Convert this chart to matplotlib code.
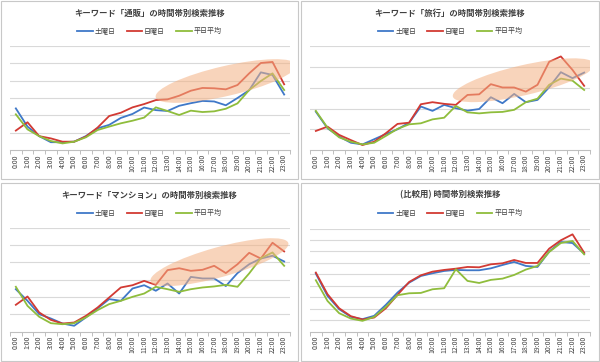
import numpy as np
import matplotlib
matplotlib.use('Agg')
import matplotlib.pyplot as plt
from matplotlib.patches import Ellipse, Rectangle
from matplotlib import transforms

plt.rcParams['font.family'] = ['Noto Sans CJK JP', 'DejaVu Sans']

hours = ['%d:00' % h for h in range(24)]
series_names = ['土曜日', '日曜日', '平日平均']
colors = ['#3f78c8', '#d23a33', '#8fbd3c']

# 通販
tsuhan_sat = [2.4, 1.35, 0.8, 0.45, 0.45, 0.48, 0.8, 1.25, 1.45, 1.85, 2.08, 2.45,
              2.3, 2.25, 2.55, 2.7, 2.83, 2.8, 2.58, 3.0, 3.45, 4.48, 4.33, 3.2]
tsuhan_sun = [1.12, 1.6, 0.8, 0.67, 0.48, 0.48, 0.77, 1.29, 1.96, 2.15, 2.46, 2.65,
              2.88, 2.92, 3.13, 3.42, 3.58, 3.56, 3.5, 3.75, 4.42, 5.02, 5.08, 3.79]
tsuhan_wd = [2.06, 1.19, 0.8, 0.52, 0.38, 0.48, 0.73, 1.15, 1.35, 1.54, 1.69, 1.87,
             2.46, 2.25, 2.02, 2.27, 2.19, 2.23, 2.38, 2.69, 3.46, 3.98, 4.42, 3.46]

# 旅行
ryoko_sat = [1.85, 1.05, 0.65, 0.35, 0.27, 0.52, 0.77, 1.0, 1.32, 2.1, 1.89, 2.18,
             2.02, 1.9, 1.98, 2.55, 2.26, 2.71, 2.31, 2.42, 3.03, 3.76, 3.47, 3.74]
ryoko_sun = [0.92, 1.13, 0.73, 0.48, 0.24, 0.4, 0.81, 1.26, 1.32, 2.21, 2.31, 2.23,
             2.18, 2.66, 2.69, 3.18, 3.02, 3.02, 2.82, 3.15, 4.26, 4.52, 3.87, 3.1]
ryoko_wd = [1.89, 1.08, 0.61, 0.4, 0.27, 0.35, 0.68, 1.02, 1.24, 1.29, 1.48, 1.56,
            2.13, 1.82, 1.77, 1.82, 1.84, 1.94, 2.31, 2.48, 3.15, 3.45, 3.35, 2.9]

# マンション
mansion_sat = [2.44, 1.77, 1.0, 0.75, 0.46, 0.33, 0.81, 1.33, 1.87, 1.77, 2.48, 2.67,
               2.35, 2.77, 2.19, 3.15, 3.06, 3.06, 2.62, 3.37, 3.88, 4.21, 4.37, 4.04]
mansion_sun = [1.54, 2.02, 1.1, 0.67, 0.46, 0.52, 0.9, 1.38, 1.96, 2.54, 2.67, 2.92,
               2.69, 3.54, 3.65, 3.5, 3.56, 3.79, 3.37, 3.88, 4.54, 4.21, 5.12, 4.62]
mansion_wd = [2.58, 1.48, 0.85, 0.48, 0.42, 0.48, 0.81, 1.23, 1.58, 1.77, 2.0, 2.19,
              2.58, 2.44, 2.29, 2.44, 2.54, 2.6, 2.69, 2.58, 3.35, 4.23, 4.56, 3.79]

# 比較用
base_sat = [5.06, 3.11, 1.95, 1.28, 1.08, 1.37, 2.33, 3.4, 4.27, 4.85, 5.09, 5.29,
            5.38, 5.35, 5.35, 5.52, 5.81, 6.08, 5.73, 5.64, 6.98, 7.82, 7.73, 6.8]
base_sun = [5.15, 3.26, 2.03, 1.34, 1.05, 1.22, 2.03, 3.2, 4.33, 4.91, 5.23, 5.38,
            5.49, 5.64, 5.61, 5.87, 5.96, 6.25, 5.99, 5.99, 7.24, 7.97, 8.49, 6.89]
base_wd = [4.48, 2.67, 1.6, 1.13, 0.93, 1.28, 2.15, 3.17, 3.34, 3.37, 3.69, 3.78,
           5.44, 4.42, 4.24, 4.51, 4.62, 4.94, 5.41, 5.73, 6.95, 7.73, 7.91, 6.74]

titles = ['キーワード「通販」の時間帯別検索推移', 'キーワード「旅行」の時間帯別検索推移',
          'キーワード「マンション」の時間帯別検索推移', '(比較用) 時間帯別検索推移']
data = [(tsuhan_sat, tsuhan_sun, tsuhan_wd), (ryoko_sat, ryoko_sun, ryoko_wd),
        (mansion_sat, mansion_sun, mansion_wd), (base_sat, base_sun, base_wd)]
ymax = [6, 5, 6, 9]
# highlight ellipse: (center hour, center value, width in, height in, angle)
highlights = [(18.0, 3.98, 1.44, 0.30, 13), (17.8, 3.37, 1.45, 0.30, 13),
              (17.45, 4.0, 1.43, 0.30, 15.5), None]

W, H = 600, 362
fig = plt.figure(figsize=(6, 3.62), dpi=100)

# panel boxes (px): x0, y0(top), x1, y1
boxes = [(1, 1, 298, 179), (301, 1, 599, 179), (1, 183, 298, 361), (301, 183, 599, 361)]
# axes areas (px): left, top, right, bottom
areas = [(10, 46, 290, 150), (310, 46.5, 590, 150), (10, 227.5, 290, 331.5), (310, 228.5, 590, 331.5)]

x = np.arange(24)
for i in range(4):
    bx0, by0, bx1, by1 = boxes[i]
    fig.patches.append(Rectangle((bx0 / W, 1 - by1 / H), (bx1 - bx0) / W, (by1 - by0) / H,
                                 transform=fig.transFigure, fill=False, edgecolor='#c8c8c8', lw=0.8))
    l, t, r, b = areas[i]
    ax = fig.add_axes([l / W, 1 - b / H, (r - l) / W, (b - t) / H])
    lines = []
    for s, c, name in zip(data[i], colors, series_names):
        ln, = ax.plot(x, s, color=c, lw=1.3, label=name, zorder=3)
        lines.append(ln)
    ax.set_xlim(-0.5, 23.5)
    ax.set_ylim(0, ymax[i])
    ax.set_yticks(range(1, ymax[i] + 1))
    ax.yaxis.grid(True, color='#d9d9d9', lw=0.8)
    ax.set_axisbelow(True)
    ax.tick_params(axis='y', length=0, labelleft=False)
    ax.set_xticks(x)
    ax.set_xticklabels(hours, rotation=90, fontsize=5, color='#404040')
    ax.set_xticks(np.arange(-0.5, 24, 1), minor=True)
    ax.tick_params(axis='x', which='major', length=0, pad=3)
    ax.tick_params(axis='x', which='minor', length=3, color='#bfbfbf', width=0.7)
    for sp in ['top', 'left', 'right']:
        ax.spines[sp].set_visible(False)
    ax.spines['bottom'].set_color('#bfbfbf')
    ax.spines['bottom'].set_linewidth(0.8)

    cx = (bx0 + bx1) / 2 / W
    fig.text(cx, 1 - (by0 + 12) / H, titles[i], ha='center', va='center',
             fontsize=6, fontweight='bold', color='#404040')
    fig.legend(handles=lines, loc='center', bbox_to_anchor=(cx, 1 - (by0 + 30) / H),
               ncol=3, frameon=False, fontsize=5, handlelength=2.2, columnspacing=1.6,
               handletextpad=0.3, labelcolor='#404040')

    if highlights[i] is not None:
        hx, hy, ew, eh, ang = highlights[i]
        tr = fig.dpi_scale_trans + transforms.ScaledTranslation(hx, hy, ax.transData)
        ax.add_patch(Ellipse((0, 0), ew, eh, angle=ang, transform=tr,
                             facecolor='#f4b183', edgecolor='none', alpha=0.55, zorder=4))

fig.savefig('out.png', dpi=100)
